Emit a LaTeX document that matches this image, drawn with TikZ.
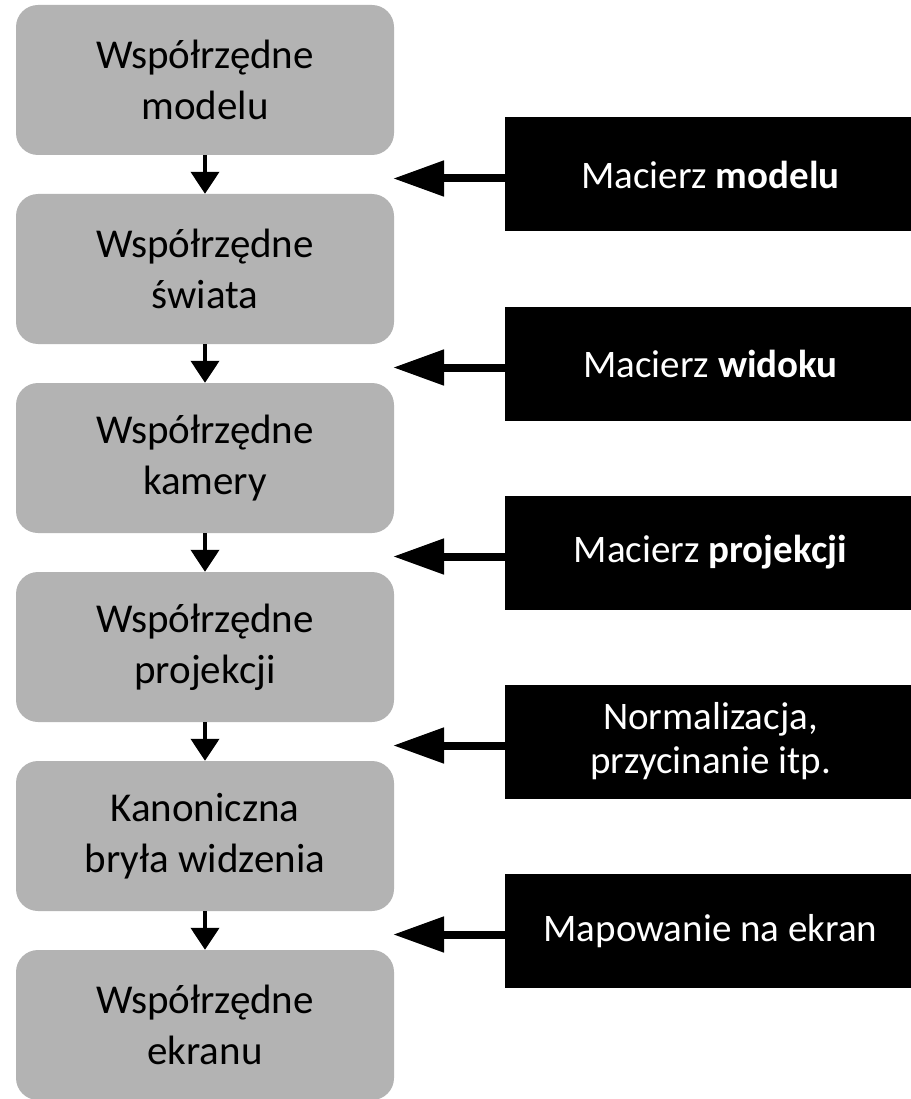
\documentclass[tikz,border=0pt]{standalone}
\usepackage{fontspec}
\setmainfont{Carlito}
\usetikzlibrary{arrows.meta}
\definecolor{boxgray}{RGB}{179,179,179}
\begin{document}
\begin{tikzpicture}[x=1pt,y=-1pt,
  stage/.style={fill=boxgray, rounded corners=22pt, minimum width=378pt, minimum height=150pt, inner sep=0pt, align=center, font=\fontsize{41}{51}\selectfont, text=black},
  op/.style={fill=black, minimum width=411pt, minimum height=114pt, inner sep=0pt, align=center, font=\fontsize{39}{44}\selectfont, text=white},
  down/.style={line width=4pt, -{Triangle[length=22pt,width=28pt]}},
  feed/.style={line width=8pt, -{Triangle[length=51pt,width=34pt]}}]
\useasboundingbox (0,0) rectangle (910,1099);
\node[stage] (s1) at (205,80) {Współrzędne\\modelu};
\node[stage] (s2) at (205,269) {Współrzędne\\świata};
\node[stage] (s3) at (205,458) {Współrzędne\\kamery};
\node[stage] (s4) at (205,647) {Współrzędne\\projekcji};
\node[stage] (s5) at (205,836) {Kanoniczna\\bryła widzenia};
\node[stage] (s6) at (205,1025) {Współrzędne\\ekranu};
\node[op] (m1) at (710.5,174.5) {Macierz \textbf{modelu}};
\node[op] (m2) at (710.5,363.5) {Macierz \textbf{widoku}};
\node[op] (m3) at (710.5,552.5) {Macierz \textbf{projekcji}};
\node[op] (m4) at (710.5,741.5) {Normalizacja,\\przycinanie itp.};
\node[op] (m5) at (710.5,931) {Mapowanie na ekran};
\draw[down] (s1) -- (s2);
\draw[down] (s2) -- (s3);
\draw[down] (s3) -- (s4);
\draw[down] (s4) -- (s5);
\draw[down] (s5) -- (s6);
\coordinate (t1) at (393,178.5);
\coordinate (t2) at (393,367.5);
\coordinate (t3) at (393,556.5);
\coordinate (t4) at (393,745.5);
\coordinate (t5) at (393,934.5);
\draw[feed] (m1.west |- t1) -- (t1);
\draw[feed] (m2.west |- t2) -- (t2);
\draw[feed] (m3.west |- t3) -- (t3);
\draw[feed] (m4.west |- t4) -- (t4);
\draw[feed] (m5.west |- t5) -- (t5);
\end{tikzpicture}
\end{document}
